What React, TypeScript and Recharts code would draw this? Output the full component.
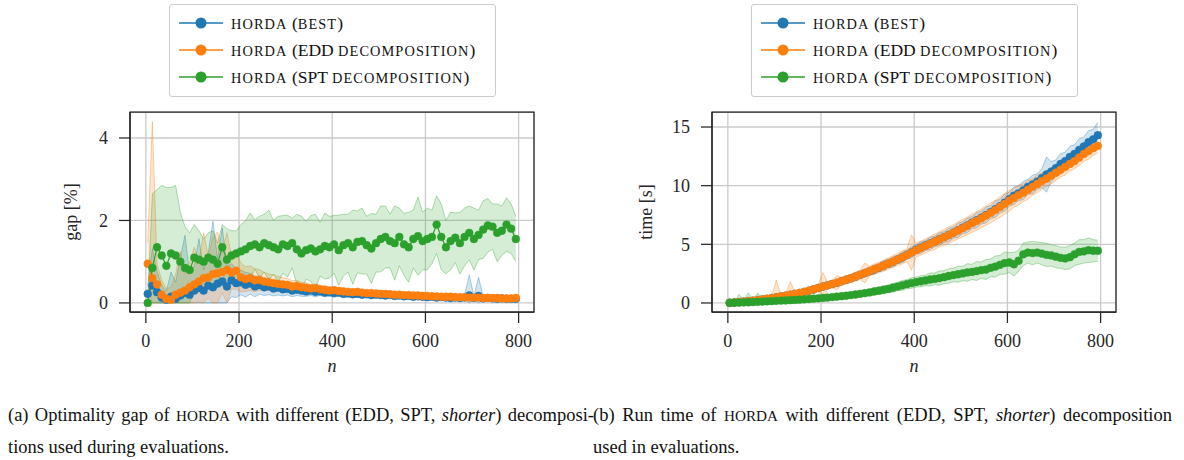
import React from "react";
import {
  ComposedChart,
  Line,
  Area,
  XAxis,
  YAxis,
  CartesianGrid,
  ReferenceArea,
} from "recharts";

// problem size n (every 10th instance)
const N = [
  4, 14, 24, 34, 44, 54, 64, 74, 84, 94, 104, 114, 124, 134, 144, 154, 164, 174, 184, 194,
  204, 214, 224, 234, 244, 254, 264, 274, 284, 294, 304, 314, 324, 334, 344, 354, 364, 374, 384, 394,
  404, 414, 424, 434, 444, 454, 464, 474, 484, 494, 504, 514, 524, 534, 544, 554, 564, 574, 584, 594,
  604, 614, 624, 634, 644, 654, 664, 674, 684, 694, 704, 714, 724, 734, 744, 754, 764, 774, 784, 794,
];

// optimality gap [%]
const GAP_BEST = [
  0.22, 0.42, 0.26, 0.13, 0.08, 0.15, 0.1, 0.18, 0.24, 0.2,
  0.3, 0.36, 0.3, 0.42, 0.38, 0.47, 0.52, 0.4, 0.55, 0.48,
  0.5, 0.44, 0.47, 0.4, 0.43, 0.38, 0.4, 0.35, 0.37, 0.33,
  0.34, 0.3, 0.32, 0.3, 0.28, 0.3, 0.27, 0.28, 0.25, 0.26,
  0.24, 0.25, 0.22, 0.23, 0.21, 0.22, 0.2, 0.21, 0.19, 0.2,
  0.19, 0.18, 0.19, 0.17, 0.18, 0.16, 0.17, 0.15, 0.16, 0.15,
  0.14, 0.15, 0.13, 0.14, 0.13, 0.12, 0.13, 0.12, 0.13, 0.18,
  0.12, 0.17, 0.11, 0.12, 0.11, 0.1, 0.11, 0.1, 0.1, 0.1,
];
const GAP_BEST_SPREAD = [
  0.2, 0.9, 0.5, 0.3, 0.2, 0.6, 0.4, 0.9, 1.4, 0.5,
  0.6, 1.2, 0.5, 0.8, 1.6, 0.6, 1.3, 0.5, 0.4, 0.35,
  0.3, 0.3, 0.25, 0.25, 0.22, 0.2, 0.2, 0.18, 0.18, 0.16,
  0.15, 0.15, 0.14, 0.14, 0.12, 0.12, 0.12, 0.1, 0.1, 0.1,
  0.1, 0.09, 0.09, 0.08, 0.08, 0.08, 0.07, 0.08, 0.07, 0.07,
  0.07, 0.06, 0.06, 0.06, 0.06, 0.06, 0.05, 0.05, 0.05, 0.05,
  0.05, 0.05, 0.05, 0.05, 0.04, 0.04, 0.05, 0.04, 0.05, 0.5,
  0.05, 0.45, 0.04, 0.04, 0.04, 0.04, 0.04, 0.04, 0.04, 0.04,
];
const GAP_EDD = [
  0.95, 0.6, 0.45, 0.2, 0.1, 0.08, 0.2, 0.25, 0.3, 0.38,
  0.45, 0.52, 0.6, 0.62, 0.7, 0.72, 0.75, 0.8, 0.74, 0.78,
  0.62, 0.58, 0.6, 0.55, 0.56, 0.52, 0.5, 0.48, 0.46, 0.45,
  0.44, 0.4, 0.41, 0.38, 0.37, 0.35, 0.36, 0.33, 0.32, 0.3,
  0.31, 0.29, 0.28, 0.27, 0.26, 0.27, 0.25, 0.24, 0.24, 0.23,
  0.22, 0.22, 0.21, 0.2, 0.2, 0.19, 0.19, 0.18, 0.18, 0.17,
  0.17, 0.16, 0.16, 0.15, 0.15, 0.15, 0.14, 0.14, 0.14, 0.13,
  0.13, 0.13, 0.12, 0.12, 0.12, 0.12, 0.11, 0.11, 0.11, 0.12,
];
const GAP_EDD_SPREAD = [
  0.5, 3.8, 0.5, 0.35, 0.25, 0.3, 0.5, 1.0, 0.4, 0.6,
  0.9, 0.5, 1.1, 0.5, 0.9, 1.0, 0.5, 0.9, 0.4, 0.45,
  0.35, 0.3, 0.3, 0.28, 0.25, 0.22, 0.2, 0.2, 0.18, 0.16,
  0.15, 0.14, 0.14, 0.12, 0.12, 0.1, 0.1, 0.1, 0.09, 0.09,
  0.08, 0.08, 0.08, 0.07, 0.07, 0.07, 0.06, 0.06, 0.06, 0.06,
  0.05, 0.05, 0.05, 0.05, 0.05, 0.05, 0.05, 0.04, 0.04, 0.04,
  0.04, 0.04, 0.04, 0.04, 0.04, 0.04, 0.04, 0.04, 0.04, 0.04,
  0.04, 0.04, 0.04, 0.04, 0.04, 0.04, 0.04, 0.04, 0.04, 0.04,
];
const GAP_SPT = [
  0.0, 0.85, 1.35, 1.15, 0.9, 1.2, 1.15, 1.0, 0.85, 0.8,
  1.1, 1.05, 1.0, 1.1, 1.05, 0.95, 1.35, 1.05, 1.15, 1.2,
  1.25, 1.3, 1.38, 1.42, 1.35, 1.45, 1.4, 1.35, 1.3, 1.42,
  1.38, 1.45, 1.3, 1.2, 1.28, 1.32, 1.25, 1.3, 1.38, 1.35,
  1.42, 1.28, 1.4, 1.45, 1.35, 1.48, 1.5, 1.4, 1.32, 1.45,
  1.55, 1.6, 1.5, 1.45, 1.6, 1.42, 1.35, 1.55, 1.62, 1.5,
  1.55, 1.6, 1.9, 1.6, 1.35, 1.5, 1.58, 1.45, 1.6, 1.7,
  1.55, 1.65, 1.78, 1.88, 1.85, 1.7, 1.75, 1.9, 1.8, 1.55,
];
const GAP_SPT_SPREAD = [
  0.05, 1.8, 1.4, 1.7, 1.9, 1.6, 1.7, 1.2, 1.0, 0.9,
  0.8, 0.7, 0.55, 0.6, 0.7, 0.5, 0.55, 0.75, 0.6, 0.55,
  0.65, 0.7, 0.8, 0.6, 0.75, 0.7, 0.85, 0.65, 0.8, 0.7,
  0.75, 0.6, 0.85, 0.9, 0.7, 0.8, 0.9, 0.65, 0.8, 0.75,
  0.7, 0.85, 0.75, 0.7, 0.9, 0.75, 0.8, 0.7, 0.85, 0.7,
  0.8, 0.75, 0.65, 0.9, 0.7, 0.75, 0.85, 0.7, 0.95, 0.7,
  0.75, 0.65, 0.7, 0.8, 0.65, 0.7, 0.6, 0.75, 0.7, 0.65,
  0.75, 0.6, 0.7, 0.65, 0.55, 0.7, 0.6, 0.65, 0.6, 0.55,
];

// run time [s]
const TIME_BEST = [
  0.02, 0.05, 0.08, 0.12, 0.15, 0.2, 0.25, 0.3, 0.35, 0.42,
  0.48, 0.55, 0.62, 0.7, 0.78, 0.85, 0.95, 1.05, 1.15, 1.28,
  1.4, 1.5, 1.62, 1.72, 1.85, 1.98, 2.1, 2.25, 2.4, 2.55,
  2.7, 2.85, 3.0, 3.18, 3.35, 3.5, 3.7, 3.88, 4.1, 4.32,
  4.55, 4.72, 4.9, 5.08, 5.25, 5.45, 5.62, 5.8, 6.0, 6.2,
  6.42, 6.62, 6.85, 7.05, 7.28, 7.5, 7.75, 8.0, 8.25, 8.55,
  8.85, 9.15, 9.35, 9.6, 9.9, 10.1, 10.35, 10.65, 10.95, 11.2,
  11.5, 11.85, 12.1, 12.45, 12.7, 13.05, 13.35, 13.7, 13.95, 14.3,
];
const TIME_BEST_SPREAD = [
  0.02, 0.03, 0.04, 0.05, 0.06, 0.08, 0.07, 0.1, 0.09, 0.12,
  0.1, 0.14, 0.12, 0.15, 0.14, 0.18, 0.15, 0.2, 0.17, 0.22,
  0.2, 0.25, 0.22, 0.28, 0.24, 0.3, 0.26, 0.32, 0.28, 0.35,
  0.3, 0.38, 0.32, 0.4, 0.35, 0.42, 0.36, 0.45, 0.38, 0.48,
  0.4, 0.5, 0.42, 0.52, 0.45, 0.55, 0.46, 0.58, 0.48, 0.6,
  0.5, 0.62, 0.52, 0.65, 0.55, 0.68, 0.56, 0.7, 0.58, 0.72,
  0.6, 0.75, 0.62, 0.78, 0.64, 0.8, 0.66, 0.82, 1.5, 0.85,
  0.7, 0.88, 0.75, 0.9, 0.78, 0.95, 0.8, 1.0, 0.85, 1.1,
];
const TIME_EDD = [
  0.02, 0.05, 0.08, 0.12, 0.16, 0.2, 0.25, 0.3, 0.36, 0.42,
  0.48, 0.55, 0.62, 0.7, 0.78, 0.86, 0.95, 1.05, 1.16, 1.28,
  1.4, 1.5, 1.62, 1.73, 1.85, 1.98, 2.1, 2.25, 2.4, 2.56,
  2.72, 2.88, 3.02, 3.18, 3.35, 3.52, 3.7, 3.88, 4.08, 4.3,
  4.5, 4.68, 4.86, 5.05, 5.22, 5.42, 5.6, 5.78, 5.98, 6.18,
  6.38, 6.58, 6.8, 7.0, 7.22, 7.45, 7.68, 7.92, 8.18, 8.45,
  8.72, 8.95, 9.2, 9.4, 9.65, 9.9, 10.15, 10.4, 10.6, 10.85,
  11.1, 11.35, 11.6, 11.85, 12.1, 12.4, 12.7, 12.95, 13.2, 13.4,
];
const TIME_EDD_SPREAD = [
  0.02, 0.03, 0.05, 0.05, 0.07, 0.08, 0.1, 0.1, 0.12, 0.14,
  1.45, 0.15, 0.18, 1.1, 0.2, 0.2, 0.22, 0.25, 0.24, 0.28,
  1.2, 0.3, 0.32, 0.6, 0.34, 0.35, 0.38, 0.4, 0.4, 0.85,
  0.42, 0.45, 0.45, 0.48, 0.5, 0.5, 0.52, 0.55, 0.55, 1.5,
  0.58, 0.6, 0.6, 0.62, 0.65, 0.65, 0.68, 0.7, 0.7, 0.72,
  0.75, 0.75, 0.78, 0.8, 0.8, 0.82, 0.85, 0.85, 0.88, 0.9,
  0.9, 0.8, 0.85, 0.75, 0.8, 0.7, 0.75, 0.7, 0.65, 0.7,
  0.65, 0.6, 0.7, 0.6, 0.65, 0.7, 0.6, 0.7, 0.65, 0.6,
];
const TIME_SPT = [
  0.01, 0.02, 0.03, 0.05, 0.06, 0.08, 0.1, 0.12, 0.14, 0.16,
  0.18, 0.2, 0.22, 0.24, 0.26, 0.28, 0.31, 0.34, 0.37, 0.4,
  0.43, 0.46, 0.5, 0.54, 0.58, 0.62, 0.67, 0.72, 0.78, 0.84,
  0.9, 0.98, 1.05, 1.12, 1.2, 1.3, 1.4, 1.5, 1.6, 1.7,
  1.78, 1.85, 1.92, 2.0, 2.05, 2.12, 2.2, 2.3, 2.38, 2.45,
  2.52, 2.6, 2.65, 2.72, 2.8, 2.85, 3.0, 3.1, 3.25, 3.4,
  3.45, 3.3, 3.6, 4.15, 4.3, 4.25, 4.3, 4.2, 4.1, 4.05,
  3.95, 3.85, 3.8, 3.9, 4.15, 4.35, 4.4, 4.5, 4.45, 4.45,
];
const TIME_SPT_SPREAD = [
  0.02, 0.1, 0.7, 0.2, 0.8, 0.15, 0.75, 0.2, 0.1, 0.12,
  0.1, 0.12, 0.1, 0.14, 0.12, 0.15, 0.12, 0.15, 0.14, 0.16,
  0.15, 0.18, 0.16, 0.2, 0.18, 0.22, 0.2, 0.25, 0.22, 0.28,
  0.25, 0.3, 0.28, 0.35, 0.3, 0.38, 0.35, 0.42, 0.38, 0.45,
  0.42, 0.48, 0.45, 0.55, 0.5, 0.6, 0.55, 0.62, 0.58, 0.68,
  0.62, 0.75, 0.65, 0.8, 0.7, 0.85, 0.75, 0.9, 0.8, 0.95,
  0.85, 1.0, 0.9, 0.95, 0.9, 1.0, 0.9, 0.95, 1.0, 0.9,
  0.95, 0.9, 0.95, 1.0, 0.95, 1.05, 1.0, 1.05, 0.95, 0.9,
];

const SERIES = [
  { key: "best", name: "horda (best)", color: "#1f77b4" },
  { key: "edd", name: "horda (EDD decomposition)", color: "#ff7f0e" },
  { key: "spt", name: "horda (SPT decomposition)", color: "#2ca02c" },
];

const FONT = '"Liberation Serif", "Times New Roman", serif';
const INK = "#262626";
const GRID = "#cbcbcb";

function buildRows(means: number[][], spreads: number[][]) {
  return N.map((n, i) => {
    const row: Record<string, any> = { n };
    SERIES.forEach((s, j) => {
      const m = means[j][i];
      const d = spreads[j][i];
      row[s.key] = m;
      row[s.key + "Band"] = [Math.max(0, m - d), m + d];
    });
    return row;
  });
}

const gapRows = buildRows(
  [GAP_BEST, GAP_EDD, GAP_SPT],
  [GAP_BEST_SPREAD, GAP_EDD_SPREAD, GAP_SPT_SPREAD]
);
const timeRows = buildRows(
  [TIME_BEST, TIME_EDD, TIME_SPT],
  [TIME_BEST_SPREAD, TIME_EDD_SPREAD, TIME_SPT_SPREAD]
);

// LaTeX-like small caps: lowercase runs become slightly reduced capitals
function SmallCaps({ text, spacing = 0 }: { text: string; spacing?: number }) {
  const parts = text.match(/[a-z]+|[^a-z]+/g) || [];
  return (
    <>
      {parts.map((p, i) =>
        /^[a-z]/.test(p) ? (
          <span key={i} style={{ fontSize: "0.82em", letterSpacing: spacing }}>
            {p.toUpperCase()}
          </span>
        ) : (
          <span key={i}>{p}</span>
        )
      )}
    </>
  );
}

const tickStyle = { fill: INK, fontSize: 18, fontFamily: FONT };

function LegendBox({ left }: { left: number }) {
  return (
    <div
      style={{
        position: "absolute",
        left,
        top: 4,
        width: 327,
        height: 93,
        border: "1px solid #cccccc",
        borderRadius: 3,
        background: "#fff",
        boxSizing: "border-box",
      }}
    >
      {SERIES.map((s, i) => (
        <div
          key={s.key}
          style={{
            position: "absolute",
            left: 8,
            top: 7 + i * 27,
            height: 22,
            display: "flex",
            alignItems: "center",
            whiteSpace: "nowrap",
          }}
        >
          <svg width={45} height={14}>
            <line x1={1} y1={7} x2={45} y2={7} stroke={s.color} strokeWidth={1.5} />
            <circle cx={23} cy={7} r={5.5} fill={s.color} />
          </svg>
          <span
            style={{
              marginLeft: 8,
              fontFamily: FONT,
              fontSize: 17.5,
              color: "#111",
            }}
          >
            <SmallCaps text={s.name} spacing={1.1} />
          </span>
        </div>
      ))}
    </div>
  );
}

type PanelProps = {
  rows: Record<string, any>[];
  left: number;
  marginLeft: number;
  marginRight: number;
  yDomain: [number, number];
  yTicks: number[];
  yLabel: string;
  labelDx: number;
};

const X_DOMAIN: [number, number] = [-34, 833];
const X_TICKS = [0, 200, 400, 600, 800];

function Panel({ rows, left, marginLeft, marginRight, yDomain, yTicks, yLabel, labelDx }: PanelProps) {
  return (
    <div style={{ position: "absolute", left, top: 0 }}>
      <ComposedChart
        width={560}
        height={380}
        data={rows}
        margin={{ top: 112, right: marginRight, bottom: 8, left: marginLeft }}
      >
        <CartesianGrid stroke={GRID} strokeWidth={1.3} />
        <XAxis
          dataKey="n"
          type="number"
          domain={X_DOMAIN}
          ticks={X_TICKS}
          allowDataOverflow
          height={60}
          tickSize={11}
          tickMargin={11}
          tick={tickStyle}
          axisLine={{ stroke: INK, strokeWidth: 1.25 }}
          tickLine={{ stroke: INK, strokeWidth: 1.25 }}
          label={{
            value: "n",
            position: "insideBottom",
            offset: 0,
            style: { fill: INK, fontSize: 18, fontFamily: FONT, fontStyle: "italic" },
          }}
        />
        <YAxis
          type="number"
          domain={yDomain}
          ticks={yTicks}
          allowDataOverflow
          width={70}
          tickSize={11}
          tickMargin={11}
          tick={tickStyle}
          axisLine={{ stroke: INK, strokeWidth: 1.25 }}
          tickLine={{ stroke: INK, strokeWidth: 1.25 }}
          label={{
            value: yLabel,
            angle: -90,
            position: "center",
            dx: labelDx,
            style: { fill: INK, fontSize: 18, fontFamily: FONT },
          }}
        />
        {SERIES.map((s) => (
          <Area
            key={s.key + "Band"}
            type="linear"
            dataKey={s.key + "Band"}
            fill={s.color}
            fillOpacity={0.2}
            stroke={s.color}
            strokeOpacity={0.35}
            strokeWidth={1}
            dot={false}
            activeDot={false}
            isAnimationActive={false}
          />
        ))}
        {SERIES.map((s) => (
          <Line
            key={s.key}
            type="linear"
            dataKey={s.key}
            stroke={s.color}
            strokeWidth={1.2}
            dot={{ r: 3.9, fill: s.color, stroke: s.color, strokeWidth: 0.5 }}
            activeDot={false}
            isAnimationActive={false}
          />
        ))}
        <ReferenceArea
          x1={X_DOMAIN[0]}
          x2={X_DOMAIN[1]}
          y1={yDomain[0]}
          y2={yDomain[1]}
          fill="none"
          stroke={INK}
          strokeWidth={1.25}
          ifOverflow="visible"
        />
      </ComposedChart>
    </div>
  );
}

const captionLine: React.CSSProperties = {
  position: "absolute",
  fontFamily: FONT,
  fontSize: 18.5,
  color: "#111",
  whiteSpace: "nowrap",
  lineHeight: "20px",
};

const justified: React.CSSProperties = {
  textAlign: "justify",
  textAlignLast: "justify",
  whiteSpace: "normal",
};

export default function App() {
  return (
    <div
      style={{
        position: "absolute",
        left: 0,
        top: 0,
        width: 1184,
        height: 460,
        background: "#fff",
        overflow: "hidden",
      }}
    >
      <Panel
        rows={gapRows}
        left={0}
        marginLeft={60}
        marginRight={26}
        yDomain={[-0.22, 4.63]}
        yTicks={[0, 2, 4]}
        yLabel="gap [%]"
        labelDx={-24}
      />
      <Panel
        rows={timeRows}
        left={590}
        marginLeft={52}
        marginRight={34}
        yDomain={[-0.77, 16.28]}
        yTicks={[0, 5, 10, 15]}
        yLabel="time [s]"
        labelDx={-31}
      />
      <LegendBox left={169} />
      <LegendBox left={751} />

      <div style={{ ...captionLine, ...justified, left: 8, top: 405, width: 586 }}>
        (a) Optimality gap of <SmallCaps text="horda" /> with different (EDD, SPT, <i>shorter</i>) decomposi-
      </div>
      <div style={{ ...captionLine, left: 8, top: 437 }}>tions used during evaluations.</div>
      <div style={{ ...captionLine, ...justified, left: 593, top: 405, width: 579 }}>
        (b) Run time of <SmallCaps text="horda" /> with different (EDD, SPT, <i>shorter</i>) decomposition
      </div>
      <div style={{ ...captionLine, left: 593, top: 437 }}>used in evaluations.</div>
    </div>
  );
}
